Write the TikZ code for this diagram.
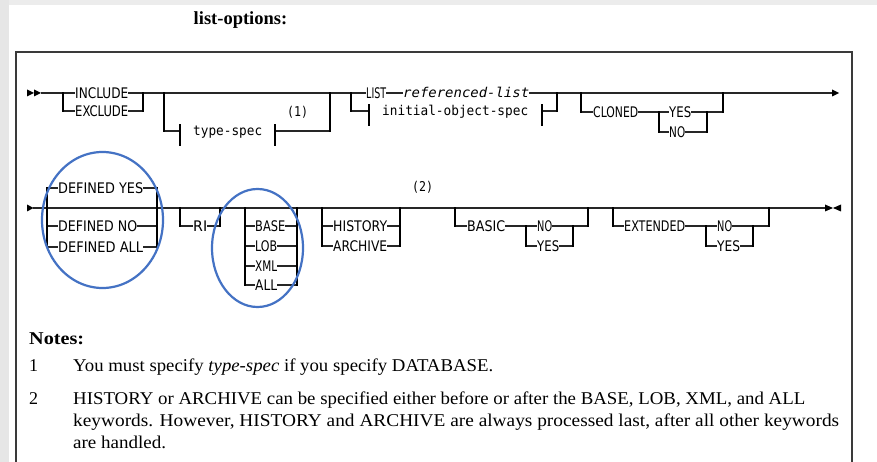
\documentclass[tikz,border=0pt]{standalone}
\usepackage{fontspec}
\setmainfont{Liberation Serif}
\newfontfamily\kwfont{DejaVu Sans}
\newfontfamily\varfont{DejaVu Sans Mono}
\definecolor{pagegray}{RGB}{230,230,230}
\definecolor{stripgray}{RGB}{236,236,236}
\definecolor{markblue}{RGB}{68,114,196}
\definecolor{framegray}{RGB}{58,58,58}
% squeeze a label to a given width, keeping its height
\newcommand\railfit[2]{\resizebox{#1pt}{\height}{#2}}
\tikzset{
  rail/.style={line width=1.2pt, draw=black!85},
  bar/.style={line width=2pt, draw=black, line cap=rect},
  kw/.style={anchor=west, inner sep=0pt, fill=white, text height=10.6pt, text depth=0pt,
             font=\kwfont\fontsize{14.6}{16}\selectfont},
  var/.style={anchor=west, inner sep=0pt, fill=white, text height=9.8pt, text depth=0pt,
             font=\varfont\fontsize{13.5}{15}\selectfont},
  ivar/.style={var, font=\varfont\itshape\fontsize{13.5}{15}\selectfont},
  ring/.style={draw=markblue, line width=2.2pt},
  note/.style={anchor=base west, inner sep=0pt, font=\fontsize{18}{21}\selectfont},
}
\begin{document}
\begin{tikzpicture}[x=1pt,y=-1pt]
\useasboundingbox (0,0) rectangle (877,462);
% page and frame
\fill[stripgray] (0,0) rectangle (877,462);
\fill[pagegray] (0,0) rectangle (9,462);
\fill[white] (9,5) rectangle (877,462);
\draw[framegray, line width=2.4pt] (16,464) -- (16,52) -- (852,52) -- (852,464);

\node[anchor=base, inner sep=0pt, font=\bfseries\fontsize{18.5}{20}\selectfont] (title) at (240.5,25) {list-options:};

% ---------- first line ----------
\coordinate (r1in) at (41,93);
\coordinate (r1out) at (832,93);
\draw[rail] (r1in) -- (r1out);
\fill (27,89.5) -- (34,93) -- (27,96.5) -- cycle;
\fill (34,89.5) -- (r1in) -- (34,96.5) -- cycle;
\fill (r1out) ++(0,-3.5) -- (839,93) -- (832,96.5) -- cycle;

% INCLUDE | EXCLUDE
\draw[rail] (63,111) -- (143,111);
\draw[bar] (63,93) -- (63,111);
\draw[bar] (143,93) -- (143,111);
\node[kw] (inc) at (75,93) {\railfit{53}{INCLUDE}};
\node[kw] (exc) at (75,111) {\railfit{53}{EXCLUDE}};

% optional type-spec fragment
\draw[rail] (164,131) -- (180,131);
\draw[rail] (275,131) -- (330,131);
\draw[bar] (164,93) -- (164,131);
\draw[bar] (330,93) -- (330,131);
\draw[bar] (180,125) -- (180,145);
\draw[bar] (275,125) -- (275,145);
\node[var] (tspec) at (193,131) {\railfit{69}{type-spec}};
\node[var] (fn1) at (287,112) {\railfit{21}{(1)}};

% LIST referenced-list | initial-object-spec
\draw[rail] (351,111) -- (369,111);
\draw[rail] (542,111) -- (557,111);
\draw[bar] (351,93) -- (351,111);
\draw[bar] (557,93) -- (557,111);
\draw[bar] (369,105) -- (369,125);
\draw[bar] (542,105) -- (542,125);
\node[kw] (list) at (366,93) {\railfit{20}{LIST}};
\node[ivar] (reflist) at (403,93) {\railfit{126}{referenced-list}};
\node[var] (initobj) at (382,111) {\railfit{146}{initial-object-spec}};

% optional CLONED YES | NO
\draw[rail] (581,112) -- (723,112);
\draw[rail] (659,132) -- (707,132);
\draw[bar] (581,93) -- (581,112);
\draw[bar] (723,93) -- (723,112);
\draw[bar] (659,112) -- (659,132);
\draw[bar] (707,112) -- (707,132);
\node[kw] (cloned) at (593,112) {\railfit{45}{CLONED}};
\node[kw] (clyes) at (669,112) {\railfit{22}{YES}};
\node[kw] (clno) at (669,132) {\railfit{16}{NO}};

% ---------- second line ----------
\coordinate (r2in) at (33,208);
\coordinate (r2out) at (825,208);
\draw[rail] (r2in) -- (r2out);
\fill (27,204.5) -- (33.5,208) -- (27,211.5) -- cycle;
\fill (r2out) ++(0,-3.5) -- (833,208) -- (825,211.5) -- cycle;
\fill (841,204.5) -- (833,208) -- (841,211.5) -- cycle;

% DEFINED YES | NO | ALL
\foreach \yy in {188,226,247} \draw[rail] (47,\yy) -- (157,\yy);
\draw[bar] (47,188) -- (47,247);
\draw[bar] (157,188) -- (157,247);
\node[kw] (defyes) at (58,188) {\railfit{85}{DEFINED YES}};
\node[kw] (defno) at (58,226) {\railfit{79}{DEFINED NO}};
\node[kw] (defall) at (58,247) {\railfit{85}{DEFINED ALL}};

% RI
\draw[rail] (180,226) -- (220,226);
\draw[bar] (180,208) -- (180,226);
\draw[bar] (220,208) -- (220,226);
\node[kw] (ri) at (193,226) {\railfit{14}{RI}};

% BASE | LOB | XML | ALL
\foreach \yy in {226,246,266,285} \draw[rail] (245,\yy) -- (297,\yy);
\draw[bar] (245,208) -- (245,285);
\draw[bar] (297,208) -- (297,285);
\node[kw] (base) at (255,226) {\railfit{30}{BASE}};
\node[kw] (lob) at (255,246) {\railfit{22}{LOB}};
\node[kw] (xml) at (255,266) {\railfit{22}{XML}};
\node[kw] (all) at (255,285) {\railfit{22}{ALL}};

% HISTORY | ARCHIVE
\foreach \yy in {226,246} \draw[rail] (322,\yy) -- (400,\yy);
\draw[bar] (322,208) -- (322,246);
\draw[bar] (400,208) -- (400,246);
\node[kw] (hist) at (333,226) {\railfit{54}{HISTORY}};
\node[kw] (arch) at (333,246) {\railfit{54}{ARCHIVE}};
\node[var] (fn2) at (412,187) {\railfit{21}{(2)}};

% optional BASIC NO | YES
\draw[rail] (455,226) -- (588,226);
\draw[rail] (526,246) -- (573,246);
\draw[bar] (455,208) -- (455,226);
\draw[bar] (588,208) -- (588,226);
\draw[bar] (526,226) -- (526,246);
\draw[bar] (573,226) -- (573,246);
\node[kw] (basic) at (467,226) {\railfit{38}{BASIC}};
\node[kw] (bno) at (537,226) {\railfit{15}{NO}};
\node[kw] (byes) at (537,246) {\railfit{22}{YES}};

% optional EXTENDED NO | YES
\draw[rail] (613,226) -- (769,226);
\draw[rail] (706,246) -- (753,246);
\draw[bar] (613,208) -- (613,226);
\draw[bar] (769,208) -- (769,226);
\draw[bar] (706,226) -- (706,246);
\draw[bar] (753,226) -- (753,246);
\node[kw] (ext) at (624,226) {\railfit{61}{EXTENDED}};
\node[kw] (eno) at (717,226) {\railfit{15}{NO}};
\node[kw] (eyes) at (717,246) {\railfit{23}{YES}};

% hand-drawn highlight rings
\draw[ring] (102.5,220) ellipse [x radius=60.5, y radius=68];
\draw[ring] (257.5,248) ellipse [x radius=45.5, y radius=59];

% ---------- notes ----------
\node[anchor=base west, inner sep=0pt, font=\bfseries\fontsize{18}{21}\selectfont] (notes) at (29,344) {\railfit{55}{Notes:}};
\node[note] (num1) at (29,371) {1};
\node[note] (note1) at (73,371) {\railfit{420}{You must specify \textit{type-spec} if you specify DATABASE.}};
\node[note] (num2) at (29,404) {2};
\node[note] (note2a) at (73,404) {\railfit{732}{HISTORY or ARCHIVE can be specified either before or after the BASE, LOB, XML, and ALL}};
\node[note] (note2b) at (73,426) {\railfit{766}{keywords. However, HISTORY and ARCHIVE are always processed last, after all other keywords}};
\node[note] (note2c) at (73,448) {\railfit{93}{are handled.}};
\end{tikzpicture}
\end{document}
